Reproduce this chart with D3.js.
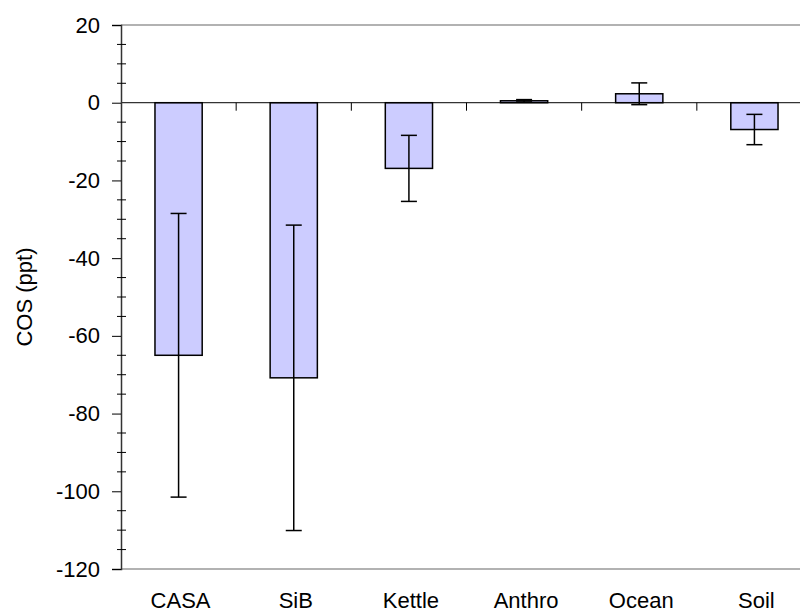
<!DOCTYPE html>
<html>
<head>
<meta charset="utf-8">
<script src="https://cdn.jsdelivr.net/npm/d3@7"></script>
<style>
  body { margin: 0; background: #fff; }
  text { font-family: "Liberation Sans", Arial, sans-serif; fill: #000; }
</style>
</head>
<body>
<div id="chart"></div>
<script>
const categories = ["CASA", "SiB", "Kettle", "Anthro", "Ocean", "Soil"];
const values = [-65, -70.8, -16.9, 0.5, 2.3, -6.9];
const errors = [36.5, 39.3, 8.5, 0.3, 2.8, 3.9];
const yTicks = [20, 0, -20, -40, -60, -80, -100, -120];

const width = 800, height = 612;
const margin = {top: 25, left: 121, bottom: 43};
const plotRight = 812;

const svg = d3.select("#chart")
              .append("svg")
              .attr("width", width)
              .attr("height", height);

const x = d3.scaleBand()
            .domain(categories)
            .range([margin.left, plotRight]);

const y = d3.scaleLinear()
            .domain([-120, 20])
            .range([height - margin.bottom, margin.top]);

// plot frame lines (top and bottom, grey)
svg.append("line")
   .attr("x1", margin.left).attr("x2", plotRight)
   .attr("y1", y(20)).attr("y2", y(20))
   .attr("stroke", "#999").attr("stroke-width", 1.5);
svg.append("line")
   .attr("x1", margin.left).attr("x2", plotRight)
   .attr("y1", y(-120)).attr("y2", y(-120))
   .attr("stroke", "#999").attr("stroke-width", 1.5);

// bars
const barW = x.bandwidth() * 0.41;
svg.selectAll(".bar")
   .data(values)
   .enter()
   .append("rect")
   .attr("class", "bar")
   .attr("x", function(d, i) { return x(categories[i]) + x.bandwidth() / 2 - barW / 2; })
   .attr("y", function(d) { return y(Math.max(0, d)); })
   .attr("width", barW)
   .attr("height", function(d) { return Math.abs(y(d) - y(0)); })
   .attr("fill", "#ccccff")
   .attr("stroke", "#000")
   .attr("stroke-width", 1.5);

// error bars
const err = svg.selectAll(".err")
               .data(values)
               .enter()
               .append("g")
               .attr("class", "err")
               .attr("transform", function(d, i) {
                   return "translate(" + (x(categories[i]) + x.bandwidth() / 2) + ",0)";
               });
err.append("line")
   .attr("y1", function(d, i) { return y(d + errors[i]); })
   .attr("y2", function(d, i) { return y(d - errors[i]); })
   .attr("stroke", "#000").attr("stroke-width", 1.5);
err.append("line")
   .attr("x1", -8).attr("x2", 8)
   .attr("y1", function(d, i) { return y(d + errors[i]); })
   .attr("y2", function(d, i) { return y(d + errors[i]); })
   .attr("stroke", "#000").attr("stroke-width", 1.5);
err.append("line")
   .attr("x1", -8).attr("x2", 8)
   .attr("y1", function(d, i) { return y(d - errors[i]); })
   .attr("y2", function(d, i) { return y(d - errors[i]); })
   .attr("stroke", "#000").attr("stroke-width", 1.5);

// zero line with category ticks
svg.append("line")
   .attr("x1", margin.left).attr("x2", plotRight)
   .attr("y1", y(0)).attr("y2", y(0))
   .attr("stroke", "#000").attr("stroke-width", 1);
svg.selectAll(".cat-tick")
   .data(categories.slice(1))
   .enter()
   .append("line")
   .attr("class", "cat-tick")
   .attr("x1", function(d) { return x(d); })
   .attr("x2", function(d) { return x(d); })
   .attr("y1", y(0)).attr("y2", y(0) + 8)
   .attr("stroke", "#000").attr("stroke-width", 1);

// y axis (plain hyphen minus, like the original)
const yAxis = svg.append("g")
                 .attr("transform", "translate(" + margin.left + ",0)")
                 .call(d3.axisLeft(y)
                         .tickValues(yTicks)
                         .tickSize(9)
                         .tickPadding(12)
                         .tickFormat(function(d) { return String(d); }));
yAxis.select(".domain").attr("stroke", "#333").attr("stroke-width", 1.5);
yAxis.selectAll(".tick line").attr("stroke", "#000");
yAxis.selectAll(".tick text")
     .attr("font-size", 22)
     .attr("font-family", "Liberation Sans, Arial, sans-serif");

// minor ticks
svg.selectAll(".minor")
   .data(d3.range(-115, 20, 5).filter(function(v) { return v % 20 !== 0; }))
   .enter()
   .append("line")
   .attr("class", "minor")
   .attr("x1", margin.left - 4).attr("x2", margin.left + 5)
   .attr("y1", function(d) { return y(d); })
   .attr("y2", function(d) { return y(d); })
   .attr("stroke", "#000").attr("stroke-width", 1);

// category labels
svg.selectAll(".cat-label")
   .data(categories)
   .enter()
   .append("text")
   .attr("class", "cat-label")
   .attr("x", function(d) { return x(d) + x.bandwidth() / 2 + 2; })
   .attr("y", 608)
   .attr("text-anchor", "middle")
   .attr("font-size", 22)
   .text(function(d) { return d; });

// y axis title
svg.append("text")
   .attr("transform", "translate(32," + y(-50) + ") rotate(-90)")
   .attr("text-anchor", "middle")
   .attr("font-size", 22)
   .text("COS (ppt)");
</script>
</body>
</html>
